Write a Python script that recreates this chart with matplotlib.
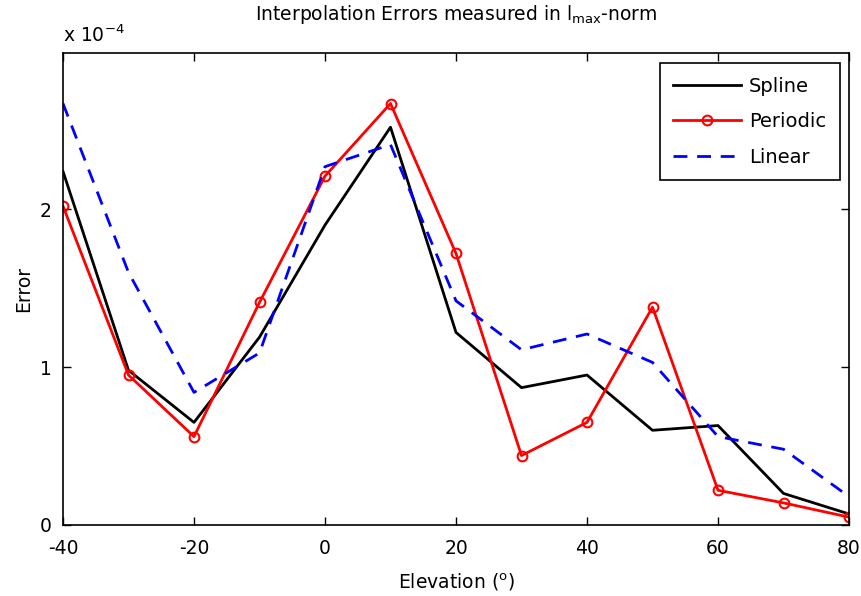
import matplotlib

matplotlib.use('Agg')

import matplotlib.pyplot as plt

# errors are given in units of 1e-4
elevation = [-40, -30, -20, -10, 0, 10, 20, 30, 40, 50, 60, 70, 80]
spline = [2.24, 0.98, 0.65, 1.19, 1.90, 2.52, 1.22, 0.87, 0.95, 0.60, 0.63, 0.20, 0.07]
periodic = [2.02, 0.95, 0.56, 1.41, 2.21, 2.67, 1.72, 0.44, 0.65, 1.38, 0.22, 0.14, 0.05]
linear = [2.67, 1.60, 0.84, 1.09, 2.27, 2.41, 1.42, 1.11, 1.21, 1.03, 0.56, 0.48, 0.18]

plt.rcParams['font.family'] = ['DejaVu Sans']
plt.rcParams['font.size'] = 13
plt.rcParams['axes.unicode_minus'] = False
plt.rcParams['mathtext.default'] = 'regular'

fig = plt.figure(figsize=(8.61, 5.96), dpi=100)
ax = fig.add_axes([63 / 861, 71 / 596, 786 / 861, 472 / 596])

ax.plot(elevation, spline, color='black', lw=2, label='Spline')
ax.plot(elevation, periodic, color='red', lw=2, marker='o', ms=7,
        mfc='none', mew=1.5, label='Periodic')
ax.plot(elevation, linear, color='blue', lw=2, ls=(0, (5, 3.5)), label='Linear')

ax.set_xlim(-40, 80)
ax.set_ylim(0, 2.99)
ax.set_xticks(range(-40, 81, 20))
ax.set_yticks([0, 1, 2])
ax.tick_params(direction='in', top=True, right=True, length=6, width=1, labelsize=13.5)
ax.tick_params(axis='x', pad=10)
ax.tick_params(axis='y', pad=8)
for s in ax.spines.values():
    s.set_linewidth(1.2)

ax.set_xlabel('Elevation ($^o$)', fontsize=13.5, labelpad=10)
ax.set_ylabel('Error', fontsize=13.5, labelpad=5)
ax.set_title('Interpolation Errors measured in l$_{max}$-norm', fontsize=13.5, pad=24)
ax.text(0.0, 1.015, 'x 10$^{-4}$', transform=ax.transAxes, fontsize=13.5,
        va='bottom', ha='left')

leg = ax.legend(loc='upper right', fontsize=14, handlelength=3.5, handletextpad=0.4,
                fancybox=False, edgecolor='black', framealpha=1, borderpad=0.7,
                labelspacing=0.85, borderaxespad=0, bbox_to_anchor=(0.9885, 0.979))
leg.get_frame().set_linewidth(1.2)

fig.savefig('out.png', dpi=100)
